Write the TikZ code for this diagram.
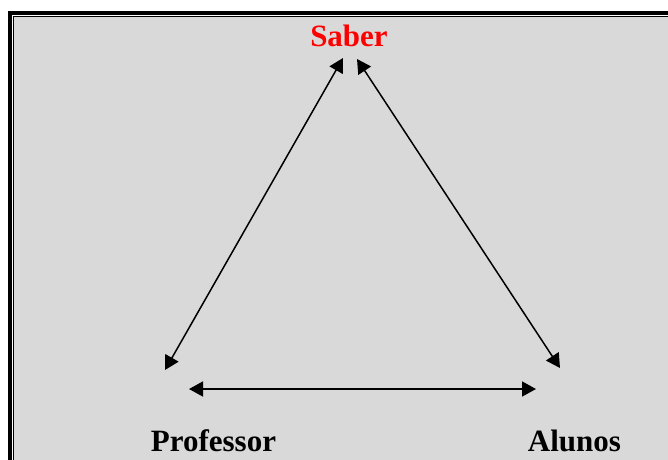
\documentclass[tikz,border=0pt]{standalone}
\usepackage{xcolor}
\usepackage{fontspec}
\setmainfont{Liberation Serif}
\usepackage{tikz}
\usetikzlibrary{arrows.meta,positioning}
\definecolor{PanelGray}{HTML}{D9D9D9}
\definecolor{TitleRed}{HTML}{FF0000}

\begin{document}
\begin{tikzpicture}[x=1pt,y=-1pt,
    label/.style={anchor=base,inner sep=0pt,font=\fontsize{31}{31}\selectfont\bfseries},
    arrow/.style={{Triangle[length=14pt,width=15pt]}-{Triangle[length=14pt,width=15pt]},line width=1.5pt}
]
\clip (0,0) rectangle (668,459);
\fill[white] (0,0) rectangle (668,459);
% panel and frame
\fill[PanelGray] (14,17) rectangle (700,500);
\draw[line width=4pt] (10,13) rectangle (700,500);
\draw[line width=1pt] (13.5,16.5) rectangle (700,500);
% corners of the triangle
\node[label,text=TitleRed] (saber) at (349,46) {Saber};
\node[label] (prof) at (213.5,451) {Professor};
\node[label] (alunos) at (574.5,451) {Alunos};
\coordinate (sL) at (343,58);
\coordinate (sR) at (357,59);
\coordinate (pT) at (165,370);
\coordinate (pR) at (189,389);
\coordinate (aT) at (560,368);
\coordinate (aL) at (536,389);
\draw[arrow] (pT) -- (sL);
\draw[arrow] (sR) -- (aT);
\draw[arrow] (pR) -- (aL);
\end{tikzpicture}
\end{document}
